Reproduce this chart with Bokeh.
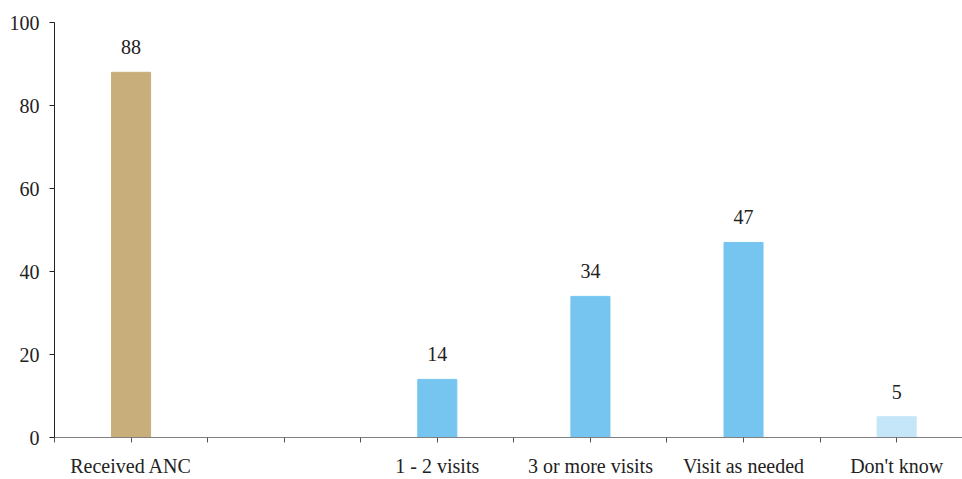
from bokeh.plotting import figure
from bokeh.models import Range1d, FixedTicker, ColumnDataSource
from bokeh.core.properties import value
from bokeh.embed import file_html
from bokeh.resources import INLINE

categories = ["Received ANC", "", "1 - 2 visits", "3 or more visits", "Visit as needed", "Don't know"]
values = [88, None, 14, 34, 47, 5]
colors = ["#C8AE7A", None, "#75C5F0", "#75C5F0", "#75C5F0", "#C5E5F8"]
y_ticks = [0, 20, 40, 60, 80, 100]

xs, ys, cs, labels = [], [], [], []
for i, (c, v, col) in enumerate(zip(categories, values, colors)):
    if v is None:
        continue
    xs.append(i + 0.5)
    ys.append(v)
    cs.append(col)
    labels.append(str(v))

src = ColumnDataSource(dict(x=xs, top=ys, color=cs, label=labels))

FONT = "Liberation Serif"

p = figure(width=962, height=479, output_backend="svg", toolbar_location=None,
           x_range=Range1d(0, 5.93), y_range=Range1d(0, 100),
           min_border_left=54, min_border_top=22, min_border_bottom=41, min_border_right=0)
p.outline_line_color = None
p.xgrid.visible = False
p.ygrid.visible = False
p.background_fill_color = "white"

p.vbar(x="x", top="top", width=0.255, bottom=0, color="color", source=src)
p.text(x="x", y="top", text="label", source=src, text_align="center", text_baseline="middle",
       y_offset=-25, text_font=value(FONT), text_font_size="20px", text_color="#222222")

centers = [i + 0.5 for i in range(len(categories))]
bounds = [float(i) for i in range(len(categories))]
p.xaxis.ticker = FixedTicker(ticks=centers, minor_ticks=bounds)
p.xaxis.major_label_overrides = {i + 0.5: c for i, c in enumerate(categories)}
p.xaxis.axis_line_color = "#808080"
p.xaxis.major_tick_line_color = "#555555"
p.xaxis.minor_tick_line_color = "#555555"
p.xaxis.major_tick_in = 0
p.xaxis.major_tick_out = 5
p.xaxis.minor_tick_in = 0
p.xaxis.minor_tick_out = 5
p.xaxis.major_label_standoff = 12
p.xaxis.major_label_text_font = FONT
p.xaxis.major_label_text_font_size = "20px"
p.xaxis.major_label_text_color = "#222222"

p.yaxis.ticker = FixedTicker(ticks=y_ticks)
p.yaxis.axis_line_color = "#222222"
p.yaxis.major_tick_line_color = "#222222"
p.yaxis.minor_tick_line_color = None
p.yaxis.major_tick_in = 0
p.yaxis.major_tick_out = 5
p.yaxis.major_label_standoff = 10
p.yaxis.major_label_text_font = FONT
p.yaxis.major_label_text_font_size = "20px"
p.yaxis.major_label_text_color = "#222222"

open("out.html", "w").write(file_html(p, INLINE))
